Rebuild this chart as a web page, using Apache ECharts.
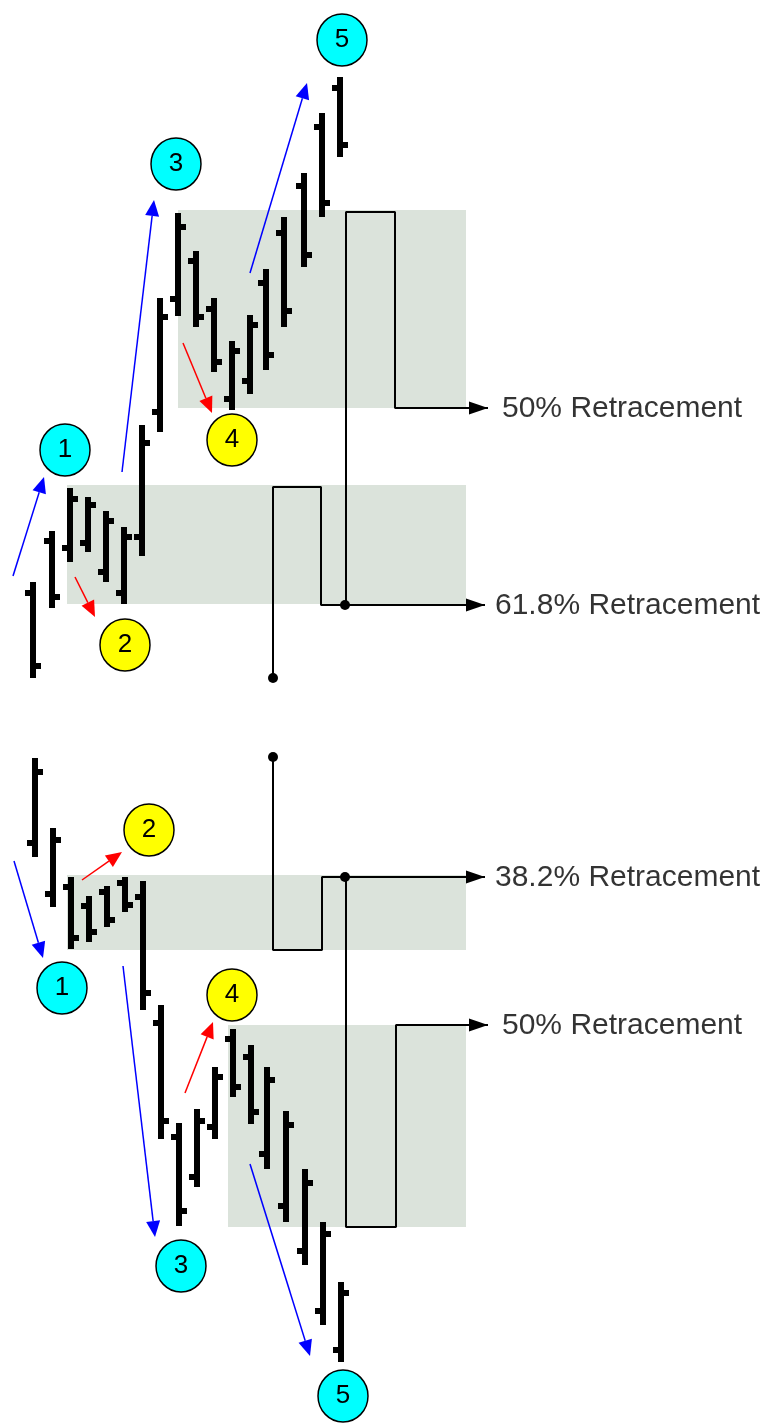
<!DOCTYPE html>
<html>
<head>
<meta charset="utf-8">
<script src="https://cdn.jsdelivr.net/npm/echarts@6/dist/echarts.min.js"></script>
<style>
  html, body { margin: 0; padding: 0; background: #fff; }
  #main { width: 783px; height: 1425px; }
</style>
</head>
<body>
<div id="main"></div>
<script>
// x = bar position, y = price level (screen-down axis)
// shaded retracement zones: [x1, y1, x2, y2]
var zones = [
  [178, 210, 466, 408],
  [67, 485, 466, 604],
  [67, 875, 466, 950],
  [228, 1025, 466, 1227]
];

// bars: [x, high, low, open, close]
var barsUp = [
  [33, 582, 678, 593, 666],
  [52, 531, 608, 541, 597],
  [70, 488, 562, 548, 499],
  [88, 497, 552, 543, 505],
  [106, 511, 582, 572, 521],
  [124, 527, 604, 593, 537],
  [142, 425, 556, 537, 443],
  [160, 298, 432, 412, 317],
  [178, 213, 316, 299, 227],
  [196, 251, 327, 261, 317],
  [214, 298, 372, 309, 362],
  [232, 341, 410, 399, 351],
  [250, 315, 394, 381, 325],
  [266, 269, 370, 283, 355],
  [284, 217, 327, 233, 311],
  [304, 173, 267, 186, 255],
  [322, 113, 217, 127, 203],
  [340, 77, 157, 88, 145]
];
var barsDown = [
  [35, 758, 857, 843, 772],
  [53, 828, 907, 894, 840],
  [71, 877, 949, 887, 938],
  [89, 896, 942, 906, 932],
  [107, 886, 927, 892, 920],
  [125, 877, 912, 883, 905],
  [143, 881, 1010, 897, 993],
  [161, 1005, 1139, 1023, 1121],
  [179, 1123, 1226, 1137, 1211],
  [197, 1109, 1187, 1177, 1121],
  [215, 1067, 1139, 1127, 1077],
  [233, 1029, 1097, 1039, 1087],
  [251, 1045, 1124, 1057, 1112],
  [267, 1067, 1169, 1154, 1080],
  [286, 1111, 1222, 1206, 1125],
  [305, 1169, 1265, 1251, 1183],
  [323, 1222, 1325, 1311, 1234],
  [341, 1282, 1362, 1350, 1293]
];

// retracement step paths, last point = arrow tip
var levelPaths = [
  [[346, 605], [346, 212], [395, 212], [395, 408], [488, 408]],
  [[273, 678], [273, 487], [321, 487], [321, 605], [485, 605]],
  [[273, 757], [273, 950], [322, 950], [322, 877], [485, 877]],
  [[346, 877], [346, 1227], [396, 1227], [396, 1025], [488, 1025]]
];
var levelDots = [[345, 605], [273, 678], [273, 757], [345, 877]];
var levelNames = ['50% Retracement', '61.8% Retracement', '38.2% Retracement', '50% Retracement'];
var levelTextX = [502, 495, 495, 502];

// wave arrows: [x1, y1, x2, y2]
var impulseArrows = [
  [13, 576, 44, 477],
  [122, 472, 154, 200],
  [250, 273, 307, 83],
  [14, 861, 43, 958],
  [123, 966, 155, 1237],
  [250, 1164, 310, 1356]
];
var correctiveArrows = [
  [75, 577, 95, 617],
  [183, 343, 212, 413],
  [82, 880, 122, 852],
  [185, 1093, 213, 1022]
];

// wave labels: [x, y, number]
var impulseLabels = [
  [65, 450, 1], [176, 164, 3], [342, 40, 5],
  [62, 988, 1], [181, 1266, 3], [343, 1396, 5]
];
var correctiveLabels = [
  [125, 645, 2], [232, 440, 4],
  [149, 830, 2], [232, 995, 4]
];

function renderZone(params, api) {
  var a = api.coord([api.value(0), api.value(1)]);
  var b = api.coord([api.value(2), api.value(3)]);
  return {
    type: 'rect',
    shape: { x: a[0], y: a[1], width: b[0] - a[0], height: b[1] - a[1] },
    style: { fill: '#dbe3db' }
  };
}

function renderBar(params, api) {
  var x = api.value(0);
  var hi = api.coord([x, api.value(1)]);
  var lo = api.coord([x, api.value(2)]);
  var op = api.coord([x, api.value(3)]);
  var cl = api.coord([x, api.value(4)]);
  var bw = 6, tk = 5, th = 6;
  var left = Math.round(hi[0] - bw / 2);
  return {
    type: 'group',
    children: [
      { type: 'rect', shape: { x: left, y: Math.round(hi[1]), width: bw, height: Math.round(lo[1] - hi[1]) }, style: { fill: '#000' } },
      { type: 'rect', shape: { x: left - tk, y: Math.round(op[1] - th / 2), width: tk, height: th }, style: { fill: '#000' } },
      { type: 'rect', shape: { x: left + bw, y: Math.round(cl[1] - th / 2), width: tk, height: th }, style: { fill: '#000' } }
    ]
  };
}

function arrowRenderer(color, len, hw, lw) {
  return function (params, api) {
    var p1 = api.coord([api.value(0), api.value(1)]);
    var p2 = api.coord([api.value(2), api.value(3)]);
    var dx = p2[0] - p1[0], dy = p2[1] - p1[1];
    var d = Math.sqrt(dx * dx + dy * dy);
    var ux = dx / d, uy = dy / d;
    var bx = p2[0] - ux * len, by = p2[1] - uy * len;
    var children = [{
      type: 'polygon',
      shape: { points: [[p2[0], p2[1]], [bx - uy * hw, by + ux * hw], [bx + uy * hw, by - ux * hw]] },
      style: { fill: color }
    }];
    if (lw > 0) {
      children.unshift({ type: 'line', shape: { x1: p1[0], y1: p1[1], x2: bx, y2: by }, style: { stroke: color, lineWidth: lw } });
    }
    return { type: 'group', children: children };
  };
}

var levelTips = levelPaths.map(function (p) {
  var a = p[p.length - 2], b = p[p.length - 1];
  return [a[0], a[1], b[0], b[1]];
});

var series = [
  { type: 'custom', name: 'zones', renderItem: renderZone, data: zones, z: 1, silent: true }
];
levelPaths.forEach(function (p) {
  series.push({
    type: 'line', data: p, symbol: 'none', z: 2, silent: true,
    lineStyle: { color: '#000', width: 2 }
  });
});
series.push(
  { type: 'custom', renderItem: arrowRenderer('#000', 19, 6.5, 0), data: levelTips, z: 3, silent: true },
  {
    type: 'scatter', data: levelDots, symbol: 'circle', symbolSize: 10, z: 3, silent: true,
    itemStyle: { color: '#000', opacity: 1 }
  },
  { type: 'custom', name: 'up', renderItem: renderBar, data: barsUp, z: 4, silent: true },
  { type: 'custom', name: 'down', renderItem: renderBar, data: barsDown, z: 4, silent: true },
  { type: 'custom', renderItem: arrowRenderer('#0000ff', 16, 7, 1.5), data: impulseArrows, z: 5, silent: true },
  { type: 'custom', renderItem: arrowRenderer('#ff0000', 16, 7, 1.5), data: correctiveArrows, z: 5, silent: true },
  {
    type: 'scatter', data: impulseLabels, symbol: 'circle', symbolSize: [50, 52], z: 6, silent: true,
    itemStyle: { color: '#00ffff', borderColor: '#000', borderWidth: 1.5, opacity: 1 },
    label: { show: true, position: 'inside', formatter: function (p) { return p.value[2]; }, color: '#000', fontSize: 26, fontFamily: 'Liberation Sans' }
  },
  {
    type: 'scatter', data: correctiveLabels, symbol: 'circle', symbolSize: [50, 52], z: 6, silent: true,
    itemStyle: { color: '#ffff00', borderColor: '#000', borderWidth: 1.5, opacity: 1 },
    label: { show: true, position: 'inside', formatter: function (p) { return p.value[2]; }, color: '#000', fontSize: 26, fontFamily: 'Liberation Sans' }
  },
  {
    type: 'scatter', symbolSize: 0, z: 6, silent: true,
    data: levelNames.map(function (n, i) {
      return { name: n, value: [levelTextX[i], levelPaths[i][levelPaths[i].length - 1][1] + 1] };
    }),
    label: {
      show: true, position: 'right', distance: 0, formatter: '{b}',
      color: '#000', fontSize: 30, fontFamily: 'Liberation Sans'
    }
  }
);

var chart = echarts.init(document.getElementById('main'), null, { renderer: 'canvas' });
chart.setOption({
  animation: false,
  backgroundColor: '#fff',
  grid: { left: 0, right: 0, top: 0, bottom: 0 },
  xAxis: { type: 'value', min: 0, max: 783, show: false },
  yAxis: { type: 'value', min: 0, max: 1425, inverse: true, show: false },
  series: series
});
</script>
</body>
</html>
